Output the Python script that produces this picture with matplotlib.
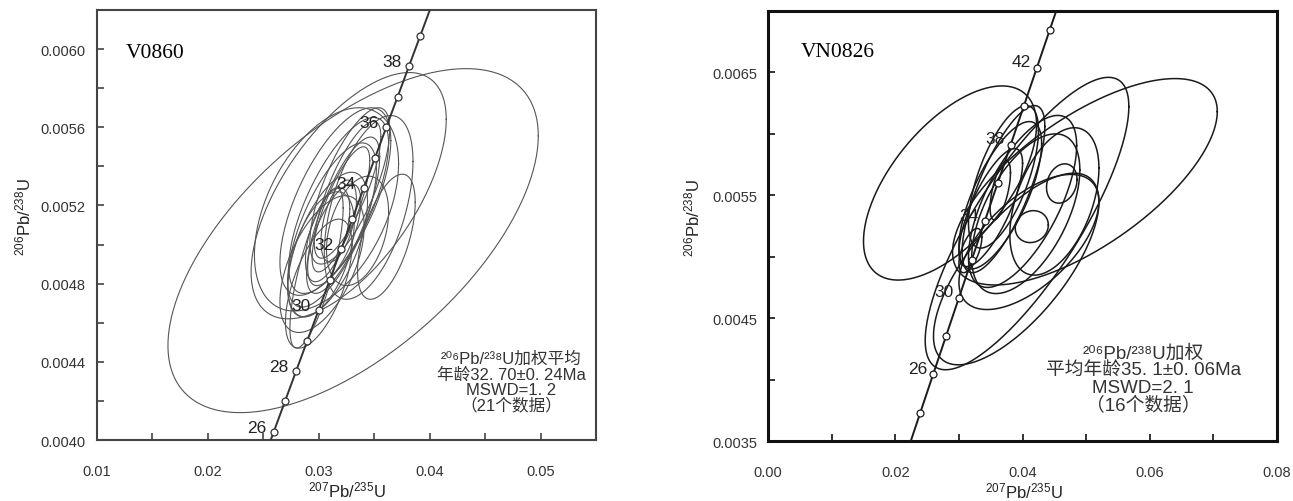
import numpy as np
import matplotlib.pyplot as plt
from matplotlib.ticker import MultipleLocator, FixedLocator, FormatStrFormatter

plt.rcParams['font.family'] = ['Liberation Sans', 'DejaVu Sans']
plt.rcParams['mathtext.fontset'] = 'custom'
plt.rcParams['mathtext.rm'] = 'Liberation Sans'
plt.rcParams['mathtext.default'] = 'regular'

# decay constants, 1/Ma
lam238 = 1.55125e-4
lam235 = 9.8485e-4

# ---- sample V0860 ----
v_ages = [26, 27, 28, 29, 30, 31, 32, 33, 34, 35, 36, 37, 38, 39]
v_labels = [26, 28, 30, 32, 34, 36, 38]
# ellipses: 207Pb/235U centre, 206Pb/238U centre, x error, y error, rho
v_cx = [0.0331, 0.0327, 0.0307, 0.0345, 0.0361, 0.0335, 0.0315, 0.0318, 0.0312, 0.0322, 0.0308,
        0.0303, 0.0300, 0.0320, 0.0326, 0.0314, 0.0302, 0.0328, 0.0298, 0.0308, 0.0318]
v_cy = [0.00502, 0.00525, 0.00518, 0.00519, 0.00504, 0.00507, 0.00522, 0.00520, 0.00510, 0.00515, 0.00500,
        0.00490, 0.00480, 0.00518, 0.00528, 0.00505, 0.00495, 0.00530, 0.00488, 0.00505, 0.00512]
v_sx = [0.0167, 0.0088, 0.0065, 0.0040, 0.0026, 0.0028, 0.0050, 0.0045, 0.0040, 0.0033, 0.0036,
        0.0038, 0.0030, 0.0026, 0.0030, 0.0024, 0.0030, 0.0036, 0.0024, 0.0020, 0.0016]
v_sy = [0.00088, 0.00063, 0.00052, 0.00047, 0.00032, 0.00028, 0.00048, 0.00045, 0.00042, 0.00040, 0.00037,
        0.00035, 0.00033, 0.00032, 0.00035, 0.00026, 0.00032, 0.00040, 0.00041, 0.00024, 0.00021]
v_rho = [0.61, 0.62, 0.45, 0.50, 0.55, 0.35, 0.65, 0.70, 0.68, 0.75, 0.60,
         0.55, 0.60, 0.78, 0.78, 0.65, 0.50, 0.72, 0.75, 0.55, 0.50]
v_yticks = [0.0040, 0.0044, 0.0048, 0.0052, 0.0056, 0.0060]
v_xticks = [0.01, 0.02, 0.03, 0.04, 0.05]

# ---- sample VN0826 ----
n_ages = [24, 26, 28, 30, 32, 34, 36, 38, 40, 42, 44]
n_labels = [26, 30, 34, 38, 42]
n_cx = [0.0286, 0.0498, 0.0407, 0.0390, 0.0410, 0.04145, 0.04616, 0.0370,
        0.0400, 0.0365, 0.0370, 0.0350, 0.0365, 0.0450, 0.0405, 0.0318]
n_cy = [0.00560, 0.00561, 0.00527, 0.00490, 0.00512, 0.005245, 0.005596, 0.00555,
        0.00545, 0.00550, 0.00565, 0.00540, 0.00554, 0.00545, 0.00535, 0.00505]
n_sx = [0.0136, 0.0208, 0.0160, 0.0130, 0.0110, 0.0026, 0.0024, 0.0065,
        0.0085, 0.0065, 0.0055, 0.0050, 0.0016, 0.0070, 0.0085, 0.0018]
n_sy = [0.00079, 0.00084, 0.00119, 0.00078, 0.00055, 0.00013, 0.00016, 0.00068,
        0.00070, 0.00060, 0.00058, 0.00048, 0.00024, 0.00060, 0.00065, 0.00018]
n_rho = [0.60, 0.68, 0.80, 0.70, 0.60, 0.10, 0.20, 0.75,
         0.65, 0.70, 0.65, 0.75, 0.60, 0.45, 0.55, 0.60]
n_yticks = [0.0035, 0.0045, 0.0055, 0.0065]
n_xticks = [0.00, 0.02, 0.04, 0.06, 0.08]


def concordia(t):
    t = np.asarray(t, dtype=float)
    return np.exp(lam235 * t) - 1, np.exp(lam238 * t) - 1


def draw_ellipse(ax, cx, cy, sx, sy, rho, **kw):
    t = np.linspace(0, 2 * np.pi, 300)
    x = cx + sx * np.cos(t)
    y = cy + sy * (rho * np.cos(t) + np.sqrt(1 - rho ** 2) * np.sin(t))
    ax.plot(x, y, **kw)


def panel(ax, cx, cy, sx, sy, rho, ages, labels, ecol, elw, lcol, off):
    for i in range(len(cx)):
        draw_ellipse(ax, cx[i], cy[i], sx[i], sy[i], rho[i], color=ecol, lw=elw)
    x, y = concordia(np.linspace(15, 60, 400))
    ax.plot(x, y, color=lcol, lw=1.4, zorder=3)
    mx, my = concordia(ages)
    ax.plot(mx, my, 'o', ms=5, mfc='white', mec=lcol, mew=0.9, zorder=4)
    for a in labels:
        lx, ly = concordia(a)
        ax.annotate(str(a), (lx, ly), xytext=off, textcoords='offset points',
                    ha='center', va='center', fontsize=12.5, color='#222222', zorder=5)


fig = plt.figure(figsize=(12.93, 5.02), dpi=100)
ax1 = fig.add_axes([0.0750, 0.1215, 0.3859, 0.8566])
ax2 = fig.add_axes([0.5940, 0.1195, 0.3937, 0.8566])

panel(ax1, v_cx, v_cy, v_sx, v_sy, v_rho, v_ages, v_labels, '#555555', 0.8, '#333333', (-12.5, 3.5))
panel(ax2, n_cx, n_cy, n_sx, n_sy, n_rho, n_ages, n_labels, '#1a1a1a', 1.1, '#1a1a1a', (-11, 4.5))

ax1.set_xlim(0.01, 0.055)
ax1.set_ylim(0.0040, 0.0062)
ax1.xaxis.set_major_locator(FixedLocator(v_xticks))
ax1.xaxis.set_minor_locator(MultipleLocator(0.005))
ax1.yaxis.set_major_locator(FixedLocator(v_yticks))
ax1.yaxis.set_minor_locator(MultipleLocator(0.0002))
ax1.xaxis.set_major_formatter(FormatStrFormatter('%.2f'))
ax1.yaxis.set_major_formatter(FormatStrFormatter('%.4f'))

ax2.set_xlim(0.0, 0.08)
ax2.set_ylim(0.0035, 0.0070)
ax2.xaxis.set_major_locator(FixedLocator(n_xticks))
ax2.xaxis.set_minor_locator(MultipleLocator(0.01))
ax2.yaxis.set_major_locator(FixedLocator(n_yticks))
ax2.yaxis.set_minor_locator(MultipleLocator(0.0005))
ax2.xaxis.set_major_formatter(FormatStrFormatter('%.2f'))
ax2.yaxis.set_major_formatter(FormatStrFormatter('%.4f'))

for ax, scol, slw in [(ax1, '#444444', 1.5), (ax2, '#111111', 2.2)]:
    for s in ax.spines.values():
        s.set_color(scol)
        s.set_linewidth(slw)
    ax.tick_params(which='both', direction='in', color=scol, width=1.2, length=5,
                   top=False, right=False)
    ax.tick_params(axis='x', pad=17, labelsize=10.5, labelcolor='#333333')
    ax.tick_params(axis='y', pad=8, labelsize=10.5, labelcolor='#333333')
    ax.set_xlabel(r'$^{207}$Pb/$^{235}$U', fontsize=12, color='#222222')
    ax.set_ylabel(r'$^{206}$Pb/$^{238}$U', fontsize=12, color='#222222')
    ax.xaxis.label.set_va('center')
    ax.yaxis.label.set_va('center')

ax1.xaxis.set_label_coords(0.5, -0.114)
ax1.yaxis.set_label_coords(-0.148, 0.52)
ax2.xaxis.set_label_coords(0.503, -0.116)
ax2.yaxis.set_label_coords(-0.149, 0.52)

ax1.text(0.058, 0.902, 'V0860', transform=ax1.transAxes, fontsize=15.5,
         family='Liberation Serif', va='center', ha='left')
ax2.text(0.065, 0.905, 'VN0826', transform=ax2.transAxes, fontsize=15.5,
         family='Liberation Serif', va='center', ha='left')

cjk = ['Liberation Sans', 'Noto Sans CJK SC', 'DejaVu Sans']
ax1.text(0.83, 0.135, '²⁰⁶Pb/²³⁸U加权平均\n年龄32. 70±0. 24Ma\nMSWD=1. 2\n（21个数据）',
         transform=ax1.transAxes, ha='center', va='center', fontsize=12,
         linespacing=1.02, color='#333333', family=cjk)
ax2.text(0.737, 0.144, '²⁰⁶Pb/²³⁸U加权\n平均年龄35. 1±0. 06Ma\nMSWD=2. 1\n（16个数据）',
         transform=ax2.transAxes, ha='center', va='center', fontsize=13.5,
         linespacing=1.02, color='#333333', family=cjk)

fig.savefig('out.png', dpi=100)
